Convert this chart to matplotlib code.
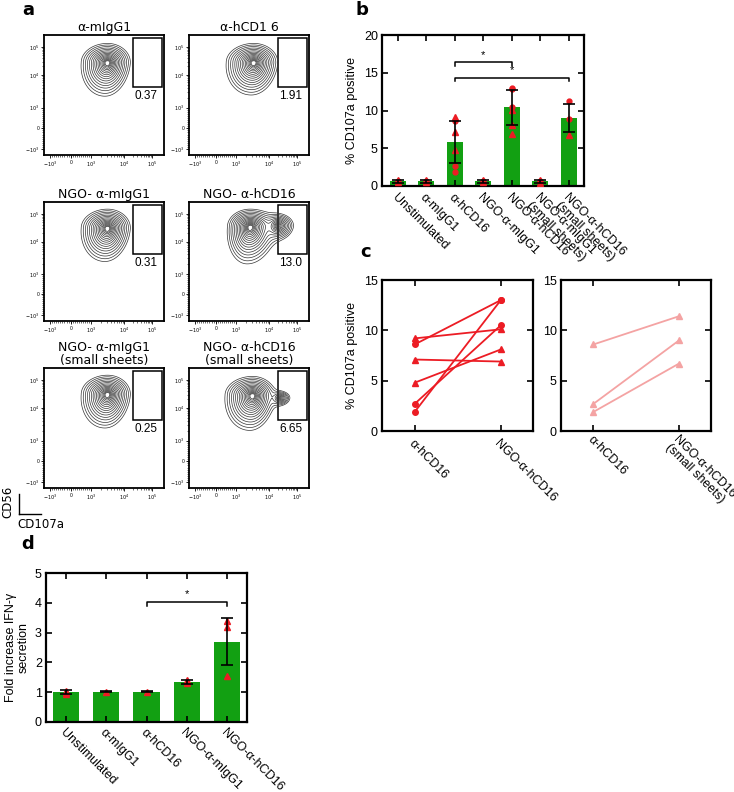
import numpy as np
import matplotlib.pyplot as plt

plt.rcParams['font.family'] = ['Liberation Sans', 'DejaVu Sans']

# ---- panel a: flow cytometry contour plots ----
flow_titles = ['α-mIgG1', 'α-hCD1 6', 'NGO- α-mIgG1', 'NGO- α-hCD16',
               'NGO- α-mIgG1\n(small sheets)', 'NGO- α-hCD16\n(small sheets)']
flow_gate_pct = ['0.37', '1.91', '0.31', '13.0', '0.25', '6.65']
# populations per plot: (x, y, left, right, down, up, weight) in axis fraction units
flow_blobs = [
    [(0.53, 0.77, 0.22, 0.19, 0.28, 0.16, 1.0)],
    [(0.54, 0.77, 0.23, 0.20, 0.27, 0.16, 1.0)],
    [(0.53, 0.78, 0.22, 0.19, 0.28, 0.16, 1.0)],
    [(0.51, 0.79, 0.19, 0.22, 0.31, 0.15, 1.0), (0.74, 0.80, 0.12, 0.16, 0.14, 0.12, 0.45)],
    [(0.53, 0.78, 0.22, 0.19, 0.28, 0.16, 1.0)],
    [(0.53, 0.77, 0.23, 0.19, 0.29, 0.16, 1.0), (0.76, 0.75, 0.10, 0.12, 0.09, 0.08, 0.25)],
]
flow_tick_pos = [0.05, 0.225, 0.395, 0.668, 0.9]
flow_tick_lbl = ['$-10^3$', '0', '$10^3$', '$10^4$', '$10^5$']

# ---- panel b: CD107a bars ----
b_cats = ['Unstimulated', 'α-mIgG1', 'α-hCD16', 'NGO-α-mIgG1', 'NGO-α-hCD16',
          'NGO-α-mIgG1\n(small sheets)', 'NGO-α-hCD16\n(small sheets)']
b_means = [0.6, 0.6, 5.8, 0.6, 10.4, 0.6, 9.0]
b_sd = [0.2, 0.2, 2.8, 0.2, 2.3, 0.2, 1.9]
b_tri = [[0.5, 0.8], [0.5, 0.8], [9.2, 7.2, 4.8], [0.5, 0.8], [10.1, 8.1, 6.9], [0.4, 0.8], [6.7]]
b_circ = [[0.6], [0.6], [8.6, 2.7, 1.9], [0.6], [13.0, 12.9, 10.5], [0.6], [11.3, 8.9]]

# ---- panel c: paired donors ----
c_left_cats = ['α-hCD16', 'NGO-α-hCD16']
c_left_pairs = [(9.2, 10.1, '^'), (8.6, 13.0, 'o'), (7.1, 6.9, '^'),
                (4.8, 8.1, '^'), (2.7, 10.5, 'o'), (1.9, 13.0, 'o')]
c_right_cats = ['α-hCD16', 'NGO-α-hCD16\n(small sheets)']
c_right_pairs = [(8.6, 11.4), (2.7, 9.0), (1.9, 6.7)]

# ---- panel d: IFN-gamma ----
d_cats = ['Unstimulated', 'α-mIgG1', 'α-hCD16', 'NGO-α-mIgG1', 'NGO-α-hCD16']
d_means = [1.0, 1.02, 1.02, 1.35, 2.7]
d_sd = [0.06, 0.02, 0.02, 0.06, 0.8]
d_pts = [[0.95, 1.0, 1.05], [1.0], [1.0], [1.3, 1.38, 1.42], [3.38, 3.2, 1.55]]

GREEN = '#12a012'
RED = '#ec1c24'
PINK = '#f4a3a3'

W, H = 734, 792
fig = plt.figure(figsize=(W / 100, H / 100), dpi=100)


def px_axes(l, t, r, b):
    return fig.add_axes([l / W, 1 - b / H, (r - l) / W, (b - t) / H])


def style_box(ax, lw=1.6):
    for s in ax.spines.values():
        s.set_linewidth(lw)
    ax.tick_params(direction='in', top=True, right=True, length=4, width=1.2,
                   labelsize=9, pad=3)


def blob_density(gx, gy, x0, y0, left, right, down, up, w, shear=0.08):
    dy = gy - y0
    dx = gx - (x0 + shear * np.minimum(dy, 0))
    sx = np.where(dx < 0, left, right)
    sy = np.where(dy < 0, down, up)
    r = np.sqrt((dx / sx) ** 2 + (dy / sy) ** 2)
    return w * np.exp(-4.0 * r)


# panel a
minor = []
for v in range(-900, 1000, 100):
    minor.append(0.05 + (v + 1000) / 2000 * (0.395 - 0.05))
for d in range(2, 4):
    for k in range(2, 10):
        minor.append(flow_tick_pos[d] + np.log10(k) * (flow_tick_pos[d + 1] - flow_tick_pos[d]))

gx, gy = np.meshgrid(np.linspace(0, 1, 300), np.linspace(0, 1, 300))
ring_r = np.linspace(1.0, 0.25, 16) ** 1.7
levels = np.sort(np.exp(-4.0 * ring_r))
rows = [(35, 155), (202, 321), (368, 488)]
cols = [(44, 164), (189, 309)]
for i in range(6):
    t, b = rows[i // 2]
    l, r = cols[i % 2]
    ax = px_axes(l, t, r, b)
    z = np.zeros_like(gx)
    for blob in flow_blobs[i]:
        z += blob_density(gx, gy, *blob)
    ax.contour(gx, gy, z, levels=levels, colors='#353535', linewidths=0.5)
    ax.add_patch(plt.Rectangle((0.744, 0.564), 0.236, 0.408, fill=False, lw=1.1, ec='k'))
    ax.text(0.85, 0.49, flow_gate_pct[i], ha='center', va='center', fontsize=8.5)
    ax.set_xlim(0, 1)
    ax.set_ylim(0, 1)
    ax.set_xticks(flow_tick_pos)
    ax.set_xticklabels(flow_tick_lbl)
    ax.set_yticks(flow_tick_pos)
    ax.set_yticklabels(flow_tick_lbl)
    ax.set_xticks(minor, minor=True)
    ax.set_yticks(minor, minor=True)
    ax.tick_params(which='major', direction='out', length=2, width=0.6, labelsize=3.5, pad=1.5)
    ax.tick_params(which='minor', direction='out', length=1.2, width=0.4)
    for s in ax.spines.values():
        s.set_linewidth(1.3)
    ax.set_title(flow_titles[i], fontsize=9, pad=3, family=['DejaVu Sans'],
                 linespacing=1.0)

# axis indicator
fig.add_artist(plt.Line2D([19 / W, 19 / W], [1 - 514 / H, 1 - 494 / H], color='k', lw=1))
fig.add_artist(plt.Line2D([19 / W, 41 / W], [1 - 514 / H, 1 - 514 / H], color='k', lw=1))
fig.text(8 / W, 1 - 502 / H, 'CD56', rotation=90, ha='center', va='center', fontsize=8.5,
         family=['DejaVu Sans'])
fig.text(17 / W, 1 - 524 / H, 'CD107a', ha='left', va='center', fontsize=8.5,
         family=['DejaVu Sans'])

# panel labels
for lab, x, y in [('a', 28, 10), ('b', 362, 10), ('c', 366, 252), ('d', 28, 544)]:
    fig.text(x / W, 1 - y / H, lab, fontsize=13, fontweight='bold', ha='center', va='center',
             family=['DejaVu Sans'])


def bracket(ax, x1, x2, y, drop, star_y):
    ax.plot([x1, x1, x2, x2], [y - drop, y, y, y - drop], color='k', lw=1.1)
    ax.text((x1 + x2) / 2, star_y, '*', ha='center', va='center', fontsize=8)


# panel b
ax = px_axes(382, 35, 584, 186)
xb = np.arange(len(b_cats))
ax.bar(xb, b_means, width=0.56, color=GREEN, zorder=1)
for i in xb:
    ax.plot([i] * len(b_tri[i]), b_tri[i], '^', color=RED, ms=4, zorder=3)
    ax.plot([i] * len(b_circ[i]), b_circ[i], 'o', color=RED, ms=3.5, zorder=3)
ax.errorbar(xb, b_means, yerr=b_sd, fmt='none', ecolor='k', elinewidth=1.2, capsize=4,
            capthick=1.2, zorder=4)
bracket(ax, 2, 4, 16.45, 0.55, 17.3)
bracket(ax, 2, 6, 14.35, 0.45, 15.3)
ax.set_xlim(-0.56, 6.53)
ax.set_ylim(0, 20)
ax.set_yticks([0, 5, 10, 15, 20])
ax.set_xticks(xb)
ax.set_xticklabels(b_cats, rotation=-45, ha='left', va='top', rotation_mode='anchor',
                   linespacing=0.9)
style_box(ax)
ax.tick_params(axis='x', pad=4)
ax.set_ylabel('% CD107a positive', fontsize=9, labelpad=4)

# panel c
for k, (l, r) in enumerate([(382, 533), (561, 711)]):
    ax = px_axes(l, 280, r, 431)
    if k == 0:
        for y1, y2, m in c_left_pairs:
            ax.plot([0, 1], [y1, y2], '-', marker=m, color=RED, lw=1.3, ms=4)
        cats = c_left_cats
        ax.set_ylabel('% CD107a positive', fontsize=9, labelpad=4)
    else:
        for y1, y2 in c_right_pairs:
            ax.plot([0, 1], [y1, y2], '-', marker='^', color=PINK, lw=1.3, ms=4.5)
        cats = c_right_cats
    ax.set_xlim(-0.38, 1.374)
    ax.set_ylim(0, 15)
    ax.set_yticks([0, 5, 10, 15])
    ax.set_xticks([0, 1])
    ax.set_xticklabels(cats, rotation=-45, ha='left', va='top', rotation_mode='anchor',
                       linespacing=0.9, fontsize=8.7 if k == 0 else 7.6)
    style_box(ax)
    ax.tick_params(axis='x', pad=5 if k == 0 else 2)

# panel d
ax = px_axes(46, 573, 247, 722)
xd = np.arange(len(d_cats))
ax.bar(xd, d_means, width=0.65, color=GREEN, zorder=1)
for i in xd:
    ax.plot([i] * len(d_pts[i]), d_pts[i], '^', color=RED, ms=4, zorder=3)
ax.errorbar(xd, d_means, yerr=d_sd, fmt='none', ecolor='k', elinewidth=1.2, capsize=4,
            capthick=1.2, zorder=4)
bracket(ax, 2, 4, 4.03, 0.13, 4.3)
ax.set_xlim(-0.5, 4.5)
ax.set_ylim(0, 5)
ax.set_yticks(range(6))
ax.set_xticks(xd)
ax.set_xticklabels(d_cats, rotation=-45, ha='left', va='top', rotation_mode='anchor',
                   fontsize=8.3)
style_box(ax)
ax.tick_params(axis='x', pad=3)
ax.set_ylabel('Fold increase IFN-γ\nsecretion', fontsize=9, labelpad=4, linespacing=1.0)

fig.savefig('out.png', dpi=100)
